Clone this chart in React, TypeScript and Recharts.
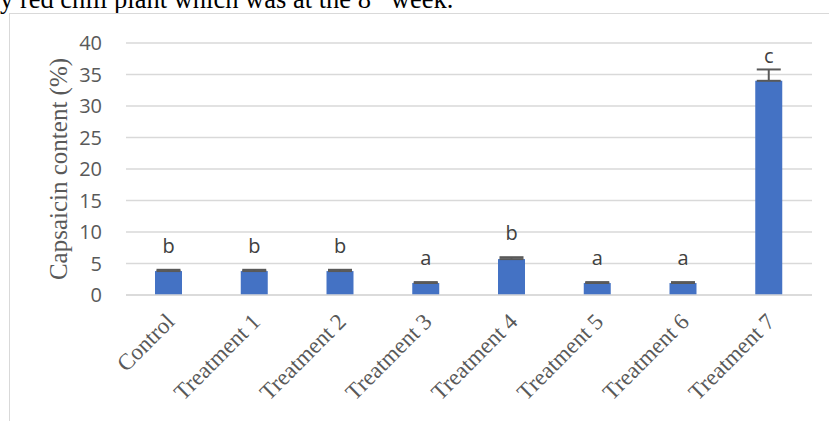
import { BarChart, Bar, XAxis, YAxis, CartesianGrid, ErrorBar, LabelList } from 'recharts';

const categories = ['Control', 'Treatment 1', 'Treatment 2', 'Treatment 3', 'Treatment 4', 'Treatment 5', 'Treatment 6', 'Treatment 7'];
const capsaicin = [3.8, 3.8, 3.8, 1.9, 5.7, 1.9, 1.9, 34.0];
const errors = [0.2, 0.2, 0.2, 0.15, 0.3, 0.15, 0.15, 1.8];
const letters = ['b', 'b', 'b', 'a', 'b', 'a', 'a', 'c'];
const yTicks = [0, 5, 10, 15, 20, 25, 30, 35, 40];

const data = categories.map((name, i) => ({
  name,
  value: capsaicin[i],
  err: [0, errors[i]],
  sig: letters[i],
}));

const PLOT_TOP = 43;

const XTick = ({ x, y, payload }: any) => (
  <text
    x={x + 7}
    y={y + 20}
    transform={`rotate(-45 ${x + 7} ${y + 20})`}
    textAnchor="end"
    fill="#595959"
    fontFamily="'Liberation Serif', serif"
    fontSize={23}
  >
    {payload.value}
  </text>
);

const SigLabel = (props: any) => {
  const { x, y, width, height, index, value } = props;
  const pxPerUnit = height / capsaicin[index];
  const errTop = y - errors[index] * pxPerUnit;
  const ly = Math.max(errTop - 17, PLOT_TOP + 20);
  return (
    <text x={x + width / 2} y={ly} textAnchor="middle" fill="#404040" fontFamily="'Open Sans', sans-serif" fontSize={20}>
      {value}
    </text>
  );
};

export default function App() {
  return (
    <div style={{ position: 'fixed', left: 0, top: 0, width: 829, height: 421, overflow: 'hidden', background: '#fff' }}>
      <div
        style={{
          position: 'absolute', left: 0, top: -16, whiteSpace: 'nowrap',
          fontFamily: "'Liberation Serif', serif", fontSize: 26.5, lineHeight: 1, color: '#000',
        }}
      >
        y red chili plant which was at the 8<sup style={{ fontSize: 17 }}>th</sup> week.
      </div>
      <div style={{ position: 'absolute', left: 9, top: 13, width: 900, height: 500, border: '1.5px solid #D9D9D9' }} />
      <div style={{ position: 'absolute', left: 0, top: 0 }}>
        <BarChart width={829} height={421} data={data} margin={{ top: PLOT_TOP, right: 17, left: 0, bottom: 0 }}>
          <CartesianGrid horizontal vertical={false} stroke="#D9D9D9" strokeWidth={1.5} />
          <XAxis
            dataKey="name"
            height={126}
            interval={0}
            axisLine={{ stroke: '#D9D9D9', strokeWidth: 1.5 }}
            tickLine={false}
            tick={<XTick />}
          />
          <YAxis
            width={126}
            domain={[0, 40]}
            ticks={yTicks}
            axisLine={false}
            tickLine={false}
            tickMargin={18}
            tick={{ fill: '#595959', fontSize: 20, fontFamily: "'Open Sans', sans-serif" }}
            label={{
              value: 'Capsaicin content (%)',
              angle: -90,
              position: 'insideLeft',
              offset: 58,
              fill: '#595959',
              fontSize: 25,
              fontFamily: "'Liberation Serif', serif",
              style: { textAnchor: 'middle' },
            }}
          />
          <Bar dataKey="value" fill="#4472C4" barSize={27} isAnimationActive={false}>
            <ErrorBar dataKey="err" direction="y" width={12} stroke="#595959" strokeWidth={2} />
            <LabelList dataKey="sig" content={<SigLabel />} />
          </Bar>
        </BarChart>
      </div>
    </div>
  );
}
